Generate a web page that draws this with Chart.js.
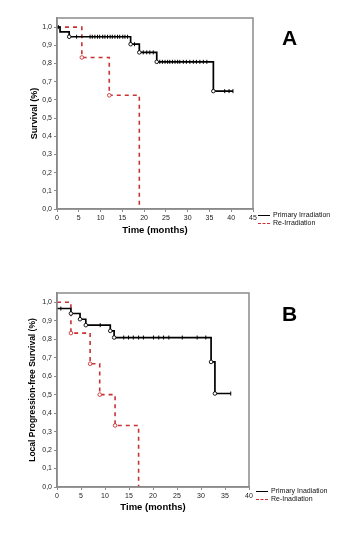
<!DOCTYPE html>
<html><head><meta charset="utf-8">
<script src="https://cdn.jsdelivr.net/npm/chart.js@4/dist/chart.umd.min.js"></script>
<style>
html,body{margin:0;padding:0;background:#fff;width:350px;height:539px;overflow:hidden;font-family:"Liberation Sans",Arial,sans-serif}
.wrap{position:absolute;left:0;width:350px}
.letter{position:absolute;font-weight:bold;font-size:21px;color:#000;line-height:1}
.leg{position:absolute;font-size:7px;color:#111;line-height:8px;white-space:nowrap}
.leg .row{position:relative;height:8px}
.leg .s{position:absolute;left:0;top:4px;width:12px;height:0}
.leg .t{position:absolute;left:15px;top:0}
</style></head>
<body>
<div class="wrap" style="top:0;height:260px"><canvas id="cA" width="350" height="260"></canvas></div>
<div class="wrap" style="top:260px;height:279px"><canvas id="cB" width="350" height="279"></canvas></div>
<div class="letter" style="left:282px;top:27px">A</div>
<div class="letter" style="left:282px;top:303px">B</div>
<div class="leg" style="left:258px;top:211px">
  <div class="row"><div class="s" style="border-top:1.5px solid #000"></div><div class="t">Primary Irradiation</div></div>
  <div class="row"><div class="s" style="border-top:1.5px dashed #c83232"></div><div class="t">Re-Irradiation</div></div>
</div>
<div class="leg" style="left:256px;top:487px">
  <div class="row"><div class="s" style="border-top:1.5px solid #000"></div><div class="t">Primary Inadiation</div></div>
  <div class="row"><div class="s" style="border-top:1.5px dashed #c83232"></div><div class="t">Re-Inadiation</div></div>
</div>
<script>
// ---- Panel A: Survival ----
const aPrimaryTimes = [0, 0.7, 2.8, 16.9, 18.9, 22.9, 35.9, 40.4];
const aPrimarySurv  = [1.0, 0.974, 0.947, 0.906, 0.861, 0.809, 0.648, 0.648];
const aPrimaryCensor = [0.3, 4.5, 7.6, 8.1, 8.7, 9.3, 9.8, 10.5, 11.0, 11.6, 12.2, 12.7, 13.3, 13.9, 14.4, 15.1, 15.6, 16.2, 17.8, 19.8, 20.6, 21.3, 22.1, 23.6, 24.2, 24.8, 25.4, 25.9, 26.5, 27.1, 27.7, 28.2, 29.0, 29.7, 30.5, 31.3, 32.0, 32.8, 33.6, 34.4, 38.5, 39.5, 40.4];
const aPrimaryEvents = [2.8, 16.9, 18.9, 22.9, 35.9];
const aReTimes = [0, 5.7, 12.0, 18.9];
const aReSurv  = [1.0, 0.833, 0.625, 0.0];
const aReEvents = [5.7, 12.0];

// ---- Panel B: Local progression-free survival ----
const bPrimaryTimes = [0, 2.9, 4.8, 6.0, 11.1, 11.9, 32.1, 32.9, 36.2];
const bPrimarySurv  = [0.966, 0.939, 0.908, 0.876, 0.845, 0.809, 0.677, 0.506, 0.506];
const bPrimaryCensor = [0.8, 9.0, 13.9, 14.9, 15.9, 17.0, 18.0, 20.1, 21.2, 22.2, 23.3, 26.1, 29.2, 31.0, 36.2];
const bPrimaryEvents = [2.9, 4.8, 6.0, 11.1, 11.9, 32.1, 32.9];
const bReTimes = [0, 2.9, 6.9, 8.9, 12.1, 17.0];
const bReSurv  = [1.0, 0.833, 0.667, 0.5, 0.333, 0.0];
const bReEvents = [2.9, 6.9, 8.9, 12.1];

const xTicksA = [0,5,10,15,20,25,30,35,40,45];
const xTicksB = [0,5,10,15,20,25,30,35,40];

const BLACK = '#000000', RED = '#c83232', AXIS = '#8a8a8a';
const FONT = '"Liberation Sans", Arial, sans-serif';

function pts(t, s){ return t.map((x,i)=>({x, y:s[i]})); }
function survAt(t, s, x){ let v = s[0]; for (let i=0;i<t.length;i++){ if (t[i] <= x) v = s[i]; } return v; }
function onCurve(t, s, xs){ return xs.map(x=>({x, y:survAt(t,s,x)})); }

const boxPlugin = {
  id:'box',
  afterDatasetsDraw(chart){
    const a = chart.chartArea, c = chart.ctx;
    c.save(); c.strokeStyle = AXIS; c.lineWidth = 1.5;
    c.strokeRect(a.left, a.top, a.right-a.left, a.bottom-a.top);
    c.restore();
  }
};

function makeChart(id, cfg){
  const datasets = [
    {data: pts(cfg.pT, cfg.pS), stepped:'before', borderColor:BLACK, borderWidth:1.7, pointRadius:0, fill:false, order:3},
    {data: pts(cfg.rT, cfg.rS), stepped:'before', borderColor:RED, borderWidth:1.6, borderDash:[4,4], pointRadius:0, fill:false, order:4},
    {data: onCurve(cfg.pT, cfg.pS, cfg.pC), showLine:false, pointStyle:'line', rotation:90, pointRadius:2, borderColor:BLACK, borderWidth:1, order:1},
    {data: onCurve(cfg.pT, cfg.pS, cfg.pE), showLine:false, pointStyle:'circle', pointRadius:1.8, backgroundColor:'#fff', borderColor:BLACK, borderWidth:0.9, order:0},
    {data: onCurve(cfg.rT, cfg.rS, cfg.rE), showLine:false, pointStyle:'circle', pointRadius:1.8, backgroundColor:'#fff', borderColor:RED, borderWidth:0.9, order:0}
  ];
  return new Chart(document.getElementById(id), {
    type:'line',
    data:{datasets},
    plugins:[boxPlugin],
    options:{
      responsive:false, animation:false,
      layout:{padding:{top:cfg.padTop, right:cfg.padRight, left:cfg.padLeft, bottom:cfg.padBottom}},
      plugins:{legend:{display:false}, tooltip:{enabled:false}},
      scales:{
        x:{type:'linear', min:0, max:cfg.xMax,
           afterBuildTicks(s){ s.ticks = cfg.xTicks.map(v=>({value:v})); },
           afterFit(s){ s.height = cfg.xH; },
           grid:{display:true, drawOnChartArea:false, drawTicks:true, tickLength:3, color:AXIS},
           border:{color:AXIS, width:1.5},
           ticks:{font:{family:FONT,size:7}, color:'#222', padding:2, maxRotation:0, autoSkip:false},
           title:{display:true, text:'Time (months)', font:{family:FONT,size:9.5,weight:'bold'}, color:'#000', padding:0}
        },
        y:{type:'linear', min:0, max:1.05,
           afterBuildTicks(s){ s.ticks = [0,0.1,0.2,0.3,0.4,0.5,0.6,0.7,0.8,0.9,1.0].map(v=>({value:v})); },
           afterFit(s){ s.width = 57 - cfg.padLeft; },
           grid:{display:true, drawOnChartArea:false, drawTicks:true, tickLength:3, color:AXIS},
           border:{color:AXIS, width:1.5},
           ticks:{font:{family:FONT,size:7}, color:'#222', padding:2, callback:v=>v.toFixed(1).replace('.',',')},
           title:{display:true, text:cfg.yTitle, font:{family:FONT,size:cfg.ySize,weight:'bold'}, color:'#000', padding:0}
        }
      }
    }
  });
}

makeChart('cA', {pT:aPrimaryTimes, pS:aPrimarySurv, pC:aPrimaryCensor, pE:aPrimaryEvents,
  rT:aReTimes, rS:aReSurv, rE:aReEvents, xMax:45, xTicks:xTicksA, padTop:18, padRight:97, padLeft:29, padBottom:24, xH:27, yTitle:'Survival (%)', ySize:9});
makeChart('cB', {pT:bPrimaryTimes, pS:bPrimarySurv, pC:bPrimaryCensor, pE:bPrimaryEvents,
  rT:bReTimes, rS:bReSurv, rE:bReEvents, xMax:40, xTicks:xTicksB, padTop:33, padRight:101, padLeft:28, padBottom:26, xH:26, yTitle:'Local Progression-free Survival (%)', ySize:8.5});
</script>
</body></html>
